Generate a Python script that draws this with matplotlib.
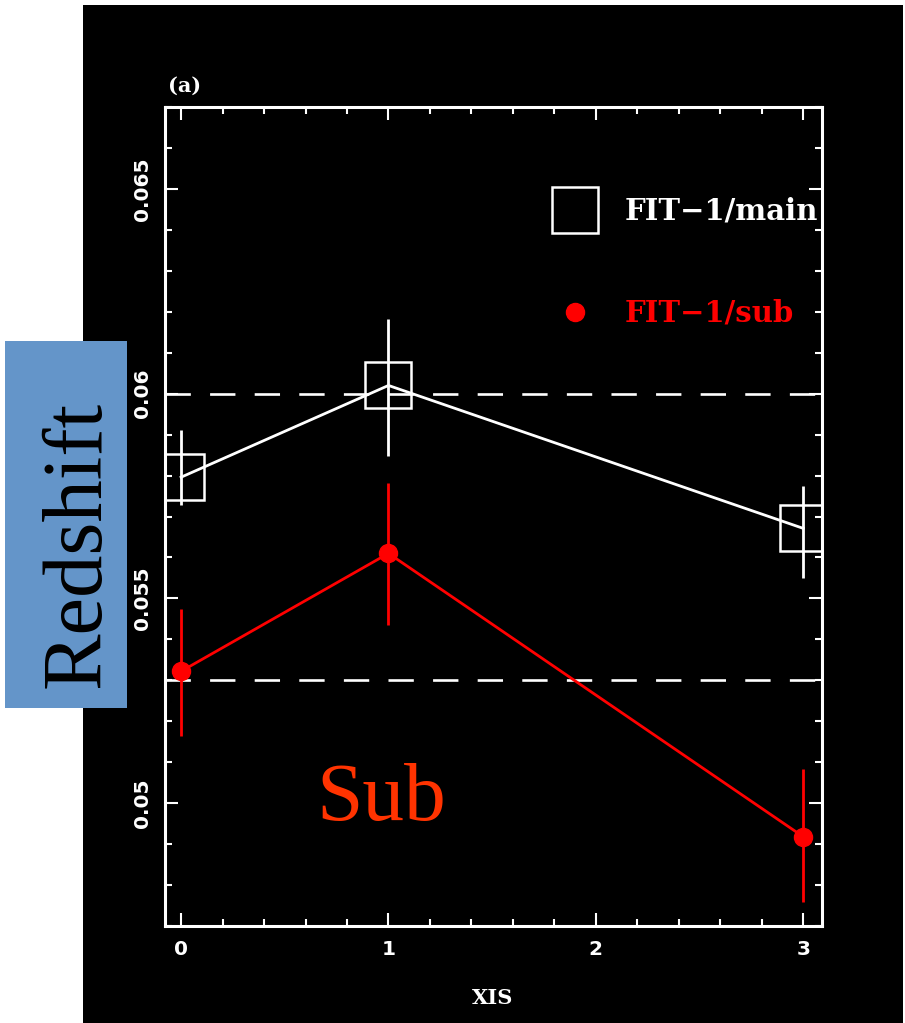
import matplotlib
matplotlib.use("Agg")
import matplotlib.pyplot as plt
from matplotlib.lines import Line2D
from matplotlib.patches import Rectangle
from matplotlib.ticker import MultipleLocator

# ---- data ----
xis = [0, 1, 3]
main_z = [0.05796, 0.06020, 0.05671]
main_err_lo = [0.00067, 0.00173, 0.00122]
main_err_hi = [0.00116, 0.00163, 0.00103]
sub_z = [0.05322, 0.05610, 0.04918]
sub_err_lo = [0.00159, 0.00176, 0.00159]
sub_err_hi = [0.00151, 0.00171, 0.00165]
ref_lines = [0.0600, 0.0530]
xticks = [0, 1, 2, 3]
yticks = [0.05, 0.055, 0.06, 0.065]
ytick_labels = ["0.05", "0.055", "0.06", "0.065"]
legend_labels = ["FIT\u22121/main", "FIT\u22121/sub"]

W, H = 905, 1023
fig = plt.figure(figsize=(W / 100, H / 100), dpi=100, facecolor="white")

# black panel behind the plot
fig.patches.append(Rectangle((83 / W, 0), (903 - 83) / W, (H - 5) / H,
                             transform=fig.transFigure, facecolor="black",
                             edgecolor="none", zorder=-1))

left, right, top, bottom = 164.5, 821.5, 107, 926
ax = fig.add_axes([left / W, (H - bottom) / H, (right - left) / W, (bottom - top) / H])
ax.set_zorder(1)
ax.set_facecolor("black")
ax.set_xlim(-0.08, 3.088)
ax.set_ylim(0.047, 0.067)

# dashed reference lines
for yv in ref_lines:
    ax.axhline(yv, color="white", lw=1.9, dashes=(9.6, 7.3), zorder=2)

# main series
ax.errorbar(xis, main_z, yerr=[main_err_lo, main_err_hi], fmt="none",
            ecolor="white", elinewidth=2.0, capsize=0, zorder=3)
ax.plot(xis, main_z, color="white", lw=2.0, zorder=3)
ax.plot(xis, main_z, ls="none", marker="s", ms=33, mfc="none", mec="white",
        mew=1.8, zorder=4)

# sub series
ax.errorbar(xis, sub_z, yerr=[sub_err_lo, sub_err_hi], fmt="none",
            ecolor="red", elinewidth=2.0, capsize=0, zorder=3)
ax.plot(xis, sub_z, color="red", lw=2.0, zorder=3)
ax.plot(xis, sub_z, ls="none", marker="o", ms=13, mfc="red", mec="red", zorder=4)

# axes styling
for sp in ax.spines.values():
    sp.set_color("white")
    sp.set_linewidth(2.2)
ax.set_xticks(xticks)
ax.set_xticklabels([str(v) for v in xticks])
ax.set_yticks(yticks)
ax.set_yticklabels(ytick_labels, rotation=90, va="center")
ax.xaxis.set_minor_locator(MultipleLocator(0.2))
ax.yaxis.set_minor_locator(MultipleLocator(0.001))
ax.tick_params(which="both", direction="in", top=True, right=True, colors="white",
               width=1.5)
ax.tick_params(which="major", length=9.5)
ax.tick_params(which="minor", length=5)
ax.tick_params(axis="y", which="major", pad=9)
ax.tick_params(axis="x", which="major", pad=10)
for lab in ax.get_xticklabels() + ax.get_yticklabels():
    lab.set_fontfamily("DejaVu Sans")
    lab.set_fontweight("bold")
    lab.set_fontsize(14.5)
    lab.set_color("white")

ax.set_xlabel("XIS", color="white", fontsize=15, fontfamily="DejaVu Serif",
              fontweight="bold", labelpad=21)
ax.text(185 / W, 1 - 86 / H, "(a)", transform=fig.transFigure, color="white",
        fontsize=15, fontfamily="DejaVu Serif", fontweight="bold",
        ha="center", va="center")

# legend
handles = [
    Line2D([], [], ls="none", marker="s", ms=33, mfc="none", mec="white", mew=1.8),
    Line2D([], [], ls="none", marker="o", ms=13, mfc="red", mec="red"),
]
leg = ax.legend(handles, legend_labels, loc="upper left",
                bbox_to_anchor=((546 - left) / (right - left), (bottom - 197) / (bottom - top)),
                frameon=False, numpoints=1, handlelength=2.0, handletextpad=0.7,
                labelspacing=2.5, borderpad=0, borderaxespad=0,
                prop={"family": "DejaVu Serif", "weight": "bold", "size": 21})
for t, c in zip(leg.get_texts(), ["white", "red"]):
    t.set_color(c)

# Redshift box label
fig.patches.append(Rectangle((5 / W, 1 - 708 / H), (127 - 5) / W, (708 - 341) / H,
                             transform=fig.transFigure, facecolor="#6495C9",
                             edgecolor="none", zorder=5))
fig.text(100 / W, 1 - 544 / H, "Redshift", rotation=90, rotation_mode="anchor",
         ha="center", va="baseline", fontsize=61, fontfamily="Liberation Serif",
         color="black", zorder=6)

# Sub annotation
fig.text(316 / W, 1 - 820 / H, "Sub", ha="left", va="baseline", fontsize=60,
         fontfamily="Liberation Serif", color="#FF3300", zorder=6)

fig.savefig("out.png", dpi=100, facecolor="white")
